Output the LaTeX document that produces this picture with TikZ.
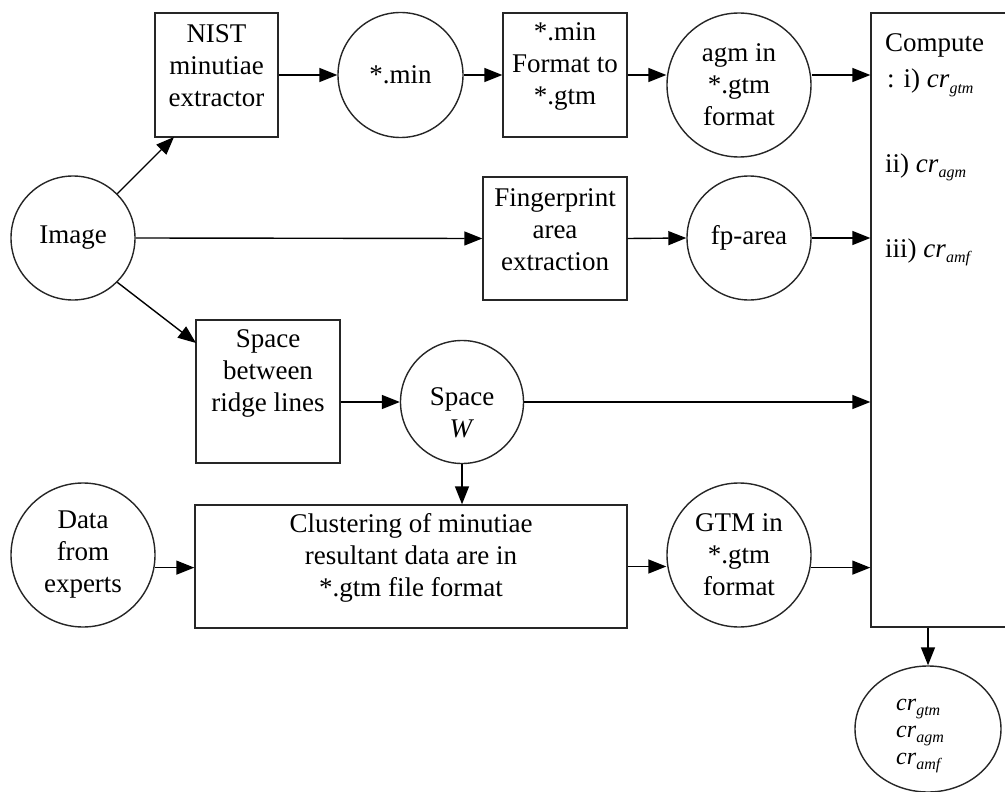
\documentclass[tikz,border=0pt]{standalone}
\usepackage{fontspec}
\setmainfont{Liberation Serif}
\usetikzlibrary{arrows.meta,shapes.geometric}
\newcommand\crs[1]{\textit{cr}\raisebox{-0.45ex}{\fontsize{16}{16}\selectfont\textit{#1}}}
\begin{document}
\begin{tikzpicture}[x=1pt,y=-1pt,
  every node/.style={font=\fontsize{27}{32}\selectfont},
  box/.style={draw=black!85,line width=1.4pt,rectangle,inner sep=0pt},
  circ/.style={draw=black!85,line width=1.4pt,circle,inner sep=0pt,align=center},
  oval/.style={draw=black!85,line width=1.4pt,ellipse,inner sep=0pt},
  txt/.style={align=center,inner sep=0pt},
  arr/.style={draw=black,line width=1.4pt,-{Triangle[length=18pt,width=14pt]}}]
\useasboundingbox (0,0) rectangle (1005,792);
\clip (0,0) rectangle (1005,792);
% nodes
\node[circ,minimum size=124pt] (img) at (73,238) {Image};
\node[box,minimum width=123pt,minimum height=124pt] (nist) at (216.5,75) {};
\node[txt] (nistt) at (216.5,66) {NIST\\minutiae\\extractor};
\node[circ,minimum size=125pt] (minc) at (400.5,75) {*.min};
\node[box,minimum width=124pt,minimum height=124pt] (fmt) at (565,75) {};
\node[txt] (fmtt) at (565,66) {*.min\\Format to\\*.gtm};
\node[circ,minimum size=144pt] (agm) at (739,85) {agm in\\*.gtm\\format};
\node[box,minimum width=144pt,minimum height=614pt] (comp) at (943,320) {};
\node[anchor=base west,inner sep=0pt] (ct1) at (885,52) {Compute};
\node[anchor=base west,inner sep=0pt] (ct2) at (887,88) {: i) \crs{gtm}};
\node[anchor=base west,inner sep=0pt] (ct3) at (885,172) {ii) \crs{agm}};
\node[anchor=base west,inner sep=0pt] (ct4) at (885,257) {iii) \crs{amf}};
\node[box,minimum width=144pt,minimum height=123pt] (fpbox) at (555,238.5) {};
\node[txt] (fpboxt) at (555,230) {Fingerprint\\area\\extraction};
\node[circ,minimum size=124pt] (fparea) at (749,238) {fp-area};
\node[box,minimum width=144pt,minimum height=143pt] (spbox) at (268,391.5) {};
\node[txt] (spboxt) at (268,373) {Space\\between\\ridge lines};
\node[circ,minimum size=123pt] (spw) at (462,402) {};
\node[txt] (spwt) at (462,413) {Space\\\textit{W}};
\node[circ,minimum size=144pt] (data) at (83,555) {Data\\from\\experts};
\node[box,minimum width=432pt,minimum height=123pt] (clust) at (411,566.5) {};
\node[txt] (clustt) at (411,558) {Clustering of minutiae\\resultant data are in\\*.gtm file format};
\node[circ,minimum size=144pt] (gtm) at (739,555) {GTM in\\*.gtm\\format};
\node[oval,minimum width=146pt,minimum height=126pt] (res) at (928,729) {};
\node[align=left,inner sep=0pt,font=\fontsize{24}{27}\selectfont] (rest) at (920,736) {\crs{gtm}\\\crs{agm}\\\crs{amf}};
% connectors
\coordinate (nistin) at (174,137);
\coordinate (spin) at (196,343);
\draw[arr] (img.45) -- (nistin);
\draw[arr] (img.-45) -- (spin);
\draw[arr] (img.east) -- (fpbox.west);
\draw[arr] (nist.east) -- (minc.west);
\draw[arr] (minc.east) -- (fmt.west);
\draw[arr] (fmt.east) -- (fmt.east -| agm.west);
\draw[arr] (fmt.east -| agm.east) -- (fmt.east -| comp.west);
\draw[arr] (fpbox.east) -- (fparea.west);
\draw[arr] (fparea.east) -- (fparea.east -| comp.west);
\draw[arr] (spw.west -| spbox.east) -- (spw.west);
\draw[arr] (spw.east) -- (spw.east -| comp.west);
\draw[arr] (spw.south) -- (spw.south |- clust.north);
\draw[arr] (data.-10) -- (data.-10 -| clust.west);
\draw[arr] (clust.east) -- (clust.east -| gtm.west);
\draw[arr] (gtm.-10) -- (gtm.-10 -| comp.west);
\draw[arr] (res.north |- comp.south) -- (res.north);
\end{tikzpicture}
\end{document}
